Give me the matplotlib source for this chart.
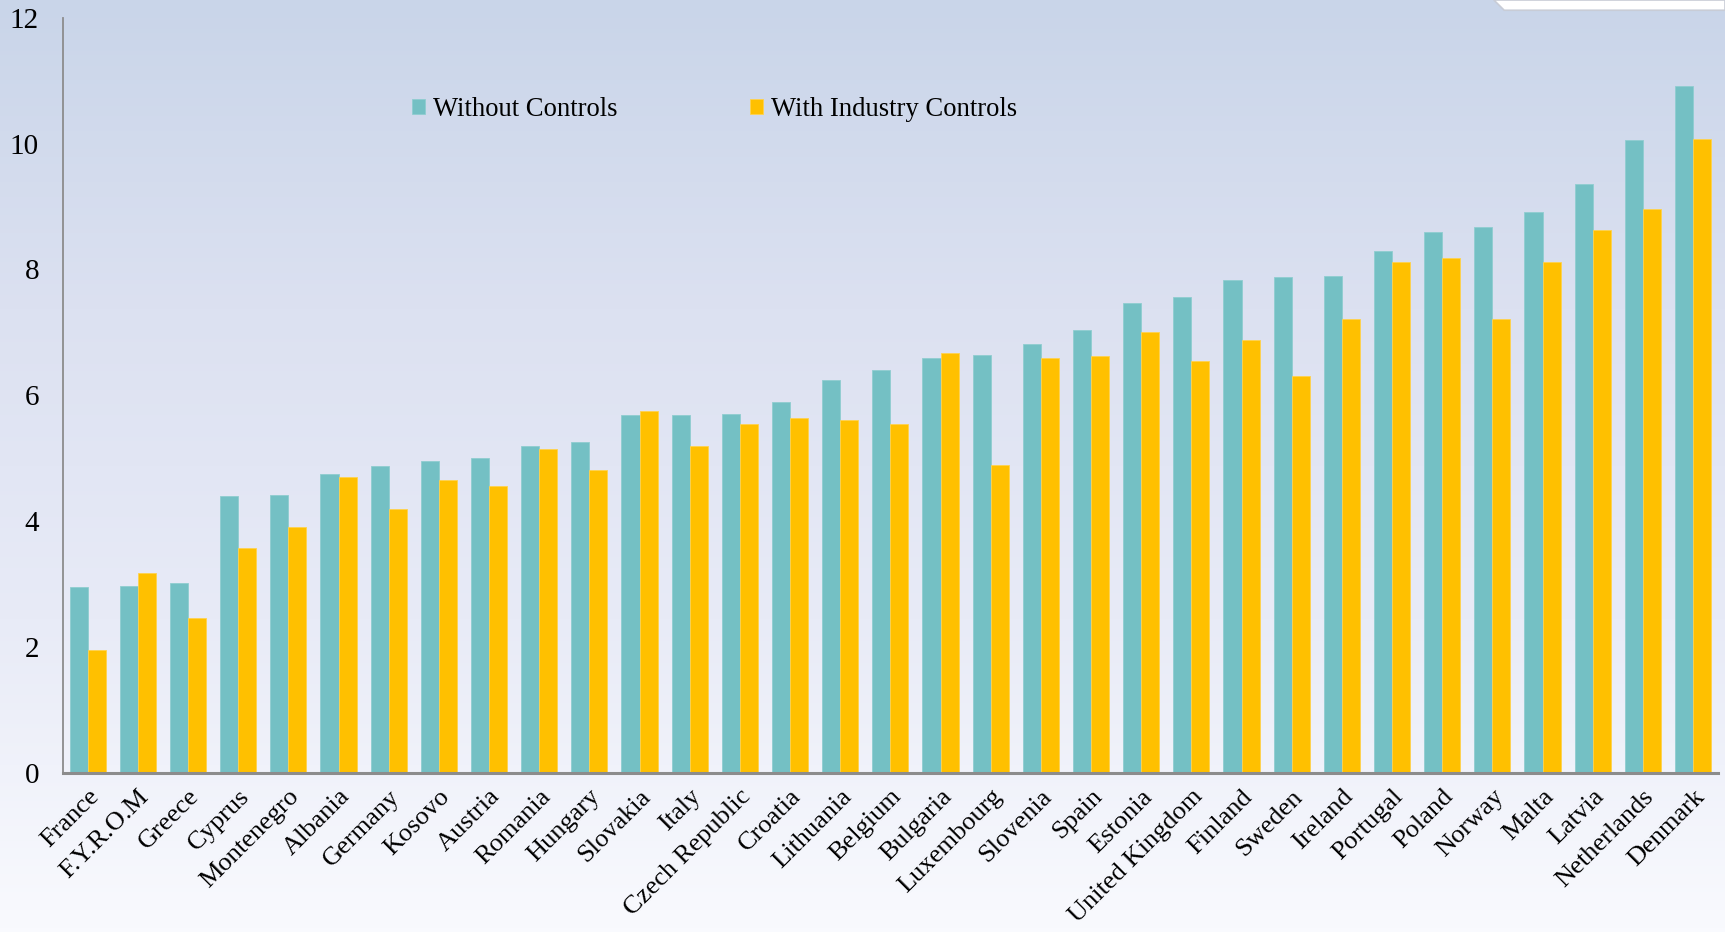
import numpy as np
import matplotlib
matplotlib.use("Agg")
import matplotlib.pyplot as plt
from matplotlib.colors import LinearSegmentedColormap
from matplotlib.patches import Polygon

countries = ["France", "F.Y.R.O.M", "Greece", "Cyprus", "Montenegro", "Albania",
             "Germany", "Kosovo", "Austria", "Romania", "Hungary", "Slovakia",
             "Italy", "Czech Republic", "Croatia", "Lithuania", "Belgium", "Bulgaria",
             "Luxembourg", "Slovenia", "Spain", "Estonia", "United Kingdom", "Finland",
             "Sweden", "Ireland", "Portugal", "Poland", "Norway", "Malta", "Latvia",
             "Netherlands", "Denmark"]
without_controls = [2.95, 2.97, 3.02, 4.40, 4.42, 4.75, 4.87, 4.96, 5.00, 5.19, 5.26,
                    5.69, 5.69, 5.71, 5.90, 6.24, 6.41, 6.60, 6.64, 6.81, 7.04, 7.46,
                    7.56, 7.83, 7.88, 7.90, 8.30, 8.59, 8.68, 8.91, 9.36, 10.06, 10.92]
with_industry = [1.96, 3.18, 2.46, 3.58, 3.91, 4.70, 4.19, 4.66, 4.56, 5.15, 4.82,
                 5.75, 5.19, 5.54, 5.64, 5.61, 5.55, 6.67, 4.89, 6.60, 6.62, 7.00,
                 6.55, 6.88, 6.31, 7.21, 8.12, 8.19, 7.21, 8.12, 8.63, 8.96, 10.08]

teal = "#74C0C4"
gold = "#FFC000"

plt.rcParams["font.family"] = ["Liberation Serif", "DejaVu Serif"]

fig = plt.figure(figsize=(17.25, 9.32), dpi=100)

# background gradient over the whole figure
bg = fig.add_axes([0, 0, 1, 1], zorder=-10)
cmap = LinearSegmentedColormap.from_list("bg", ["#C9D5E9", "#DCE1F1", "#E8EBF7", "#F9FAFE"])
grad = np.linspace(0, 1, 256).reshape(-1, 1)
bg.imshow(grad, aspect="auto", cmap=cmap, extent=[0, 1, 0, 1], origin="upper")
bg.add_patch(Polygon([[0.866, 1.0], [0.872, 0.989], [1.0, 0.989], [1.0, 1.0]],
                     closed=True, facecolor="white", edgecolor="#C8CCD6", lw=1.2))
bg.set_xlim(0, 1)
bg.set_ylim(0, 1)
bg.axis("off")

ax = fig.add_axes([0.0363, 0.1706, 0.9597, 0.8104])
ax.patch.set_alpha(0)

x = np.arange(len(countries))
w = 0.36
ax.bar(x - w / 2, without_controls, w, color=teal, edgecolor="#8FCDD0", lw=0.6,
       label="Without Controls")
ax.bar(x + w / 2, with_industry, w, color=gold, edgecolor="#FFD24D", lw=0.6,
       label="With Industry Controls")

ax.set_xlim(-0.5, len(countries) - 0.5)
ax.set_ylim(0, 12)
ax.set_yticks(np.arange(0, 13, 2))
ax.tick_params(axis="y", length=0, pad=17, labelsize=21)
ax.tick_params(axis="x", length=0, pad=9)
ax.set_xticks(x)
ax.set_xticklabels(countries, rotation=45, ha="right", rotation_mode="anchor",
                   fontsize=19)

for side in ["top", "right"]:
    ax.spines[side].set_visible(False)
ax.spines["left"].set_color("#8C8C8C")
ax.spines["left"].set_linewidth(1.3)
ax.spines["bottom"].set_color("#8C8C8C")
ax.spines["bottom"].set_linewidth(2.2)

leg = ax.legend(loc="center left", bbox_to_anchor=(0.211, 0.879), ncol=2,
                frameon=False, fontsize=19.2, handlelength=0.5, handleheight=0.5,
                handletextpad=0.3, columnspacing=4.95, borderpad=0, borderaxespad=0)

fig.savefig("out.png", dpi=100)
